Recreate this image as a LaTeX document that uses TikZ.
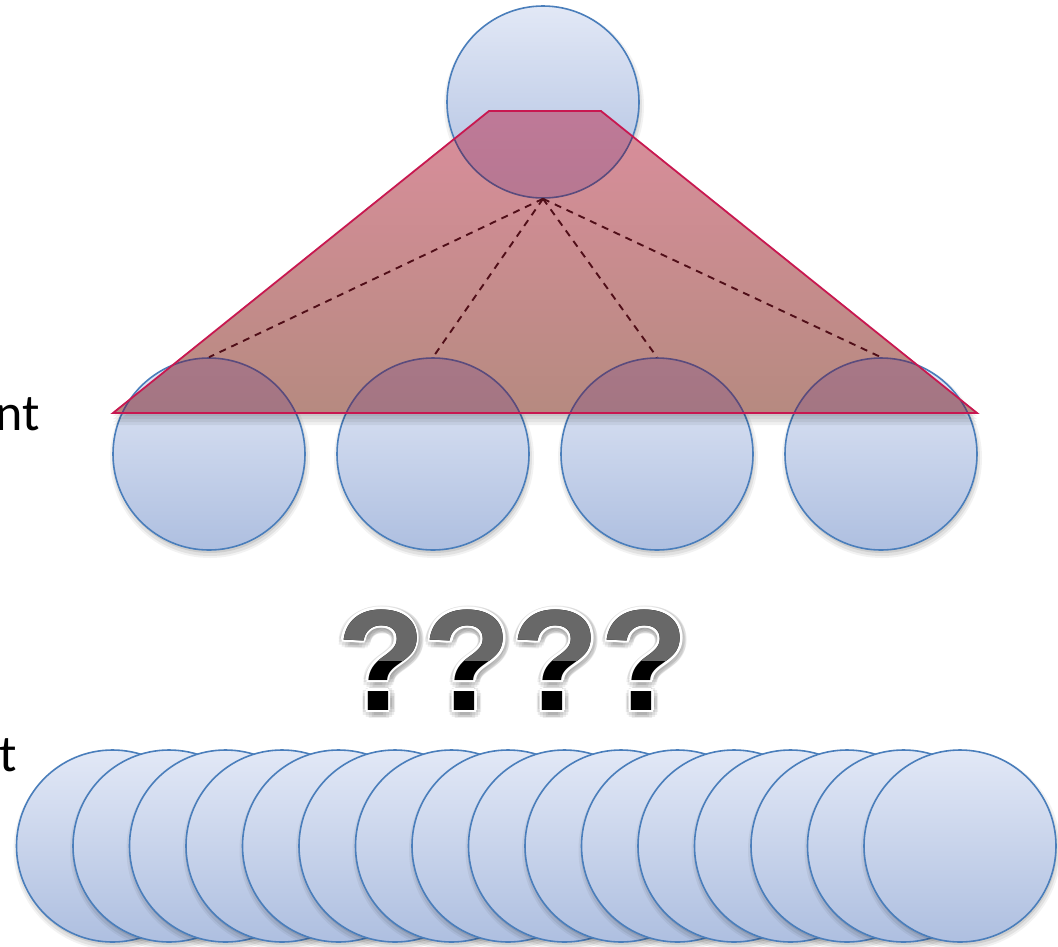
\documentclass[tikz,border=0pt]{standalone}
\usepackage{fontspec}
\setmainfont{Carlito}
\newfontfamily\qfont{Liberation Sans}
\usetikzlibrary{calc}
\definecolor{balltop}{RGB}{226,232,246}
\definecolor{ballbot}{RGB}{174,191,224}
\definecolor{ballline}{RGB}{74,126,187}
\definecolor{traptop}{RGB}{218,142,156}
\definecolor{trapbot}{RGB}{182,138,128}
\definecolor{trapline}{RGB}{200,24,80}
\definecolor{tint}{RGB}{110,60,140}
\definecolor{tintline}{RGB}{90,75,125}
\definecolor{dashcol}{RGB}{80,14,24}
\definecolor{qgray}{RGB}{104,104,104}
\tikzset{
  ball/.style={circle, minimum size=192pt, inner sep=0pt, draw=ballline, line width=1.6pt,
    top color=balltop, bottom color=ballbot},
  qm/.style={inner sep=0pt, font=\qfont\bfseries\fontsize{144}{150}\selectfont},
  link/.style={draw=dashcol, line width=1.9pt, dash pattern=on 7pt off 6pt},
  lbl/.style={inner sep=0pt, font=\fontsize{52}{60}\selectfont, text=black}
}
\newcommand\ballshadow[2]{%
  \fill[black,opacity=.05] (#1+1,#2+4) circle (100pt);
  \fill[black,opacity=.07] (#1+1,#2+4) circle (98pt);
  \fill[black,opacity=.09] (#1+1,#2+3) circle (96pt);
}
\newcommand\trappath{(489,111) -- (601,111) -- (977,413) -- (113,413) -- cycle}
\begin{document}
\begin{tikzpicture}[x=1pt,y=-1pt]
\useasboundingbox (0,0) rectangle (1058,946);

% labels
\node[lbl, anchor=base east] (lab1) at (40,430) {nt};
\node[lbl, anchor=base east] (lab2) at (17,771) {t};

% bottom row
\foreach \i in {0,...,15} {
  \pgfmathsetmacro\cx{112.5+56.5*\i}
  \ballshadow{\cx}{846}
  \node[ball] (b\i) at (\cx,846) {};
}

% middle row
\foreach \cx [count=\i] in {209,433,657,881} {
  \ballshadow{\cx}{454}
  \node[ball] (m\i) at (\cx,454) {};
}

% top
\ballshadow{543}{102}
\node[ball] (top) at (543,102) {};

% trapezoid shadow
\foreach \s in {3,6,9,12} {
  \fill[black,opacity=.06] (489,111+\s) -- (601,111+\s) -- (977,413+\s) -- (113,413+\s) -- cycle;
}
% trapezoid
\fill[top color=traptop, bottom color=trapbot] \trappath;
% circles seen through the trapezoid
\begin{scope}
  \clip \trappath;
  \foreach \n in {top,m1,m2,m3,m4} {
    \fill[tint, opacity=.25] (\n.center) circle (96pt);
    \draw[tintline, line width=1.6pt] (\n.center) circle (96pt);
  }
\end{scope}
\draw[trapline, line width=1.8pt, line join=miter] \trappath;

% dashed links
\foreach \i in {1,...,4} {
  \draw[link] (top.south) -- (m\i.north);
}

% question marks
\foreach \cx [count=\i] in {381,467.5,555.5,644.5} {
  \foreach \a in {0,30,...,330} {
    \node[qm, text=black, opacity=.07] at ($(\cx+1,662)+(\a:6)$) {?};
  }
  \foreach \a in {0,45,...,315} {
    \node[qm, text=white] at ($(\cx,660)+(\a:2.5)$) {?};
  }
  \node[qm, text=black] (q\i) at (\cx,660) {?};
  \begin{scope}
    \clip (\cx-60,590) rectangle (\cx+60,660);
    \node[qm, text=qgray] at (\cx,660) {?};
  \end{scope}
}
\end{tikzpicture}
\end{document}
